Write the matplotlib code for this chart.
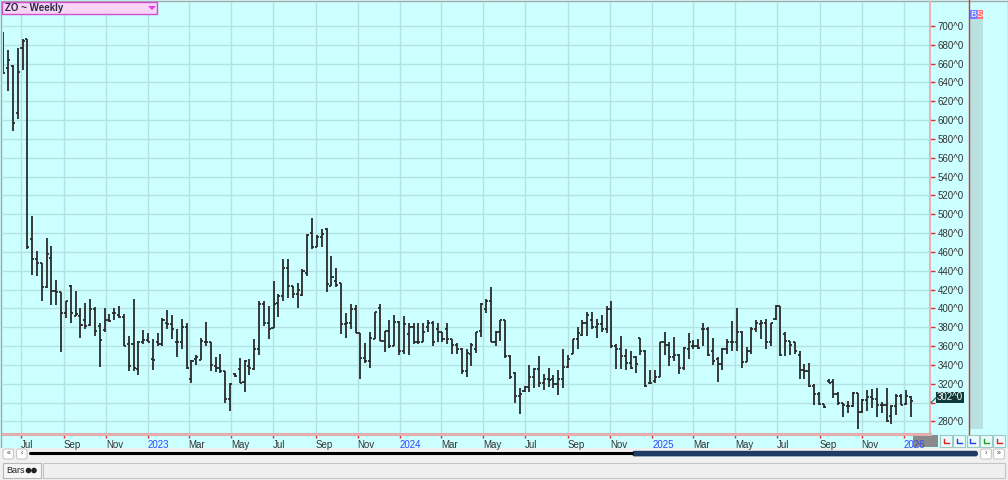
import matplotlib
matplotlib.use('Agg')
import matplotlib.pyplot as plt
import matplotlib.dates as mdates
from matplotlib.collections import LineCollection
from matplotlib.patches import Rectangle, Polygon, Circle, FancyBboxPatch
from matplotlib.ticker import FixedLocator, FuncFormatter
import pandas as pd

plt.rcParams['font.family'] = ['Liberation Sans', 'DejaVu Sans']

# ---------------- data ----------------
symbol_title = "ZO ~ Weekly"
first_week = "2022-06-05"
opens = [691, 655, 658, 608, 677, 686,
         474, 453, 448, 423, 454, 418, 417, 395, 424, 392, 392, 388, 382, 399,
         381, 377, 388, 395, 393, 391, 362, 362, 336, 364, 366, 346, 364, 362,
         384, 383, 364, 364, 380, 325, 346, 345, 364, 364, 339, 337, 333, 304,
         330, 336, 322, 339, 336, 357, 405, 385, 379, 406, 413, 443, 424, 415,
         414, 438, 480, 465, 476, 484, 424, 429, 427, 383, 385, 399, 374, 347,
         344, 368, 400, 365, 376, 360, 386, 355, 373, 380, 364, 364, 380, 385,
         378, 375, 378, 367, 361, 357, 334,
         352, 357, 376, 399, 408, 364, 375, 388, 349, 331, 307, 312, 317, 327,
         336, 321, 325, 325, 320, 325, 338, 352, 367, 372, 385, 388, 380, 383,
         378, 399, 360, 357, 349, 342, 348, 369, 355, 321, 323, 327, 364, 361,
         348, 351, 337, 357, 360,
         360, 378, 378, 355, 346, 341, 357, 364, 364, 375, 343, 355, 378, 383,
         385, 364, 389, 403, 373, 365, 364, 350, 335, 334, 318, 309, 298, 323,
         322, 309, 299, 296, 296, 310, 290, 303, 306, 304, 297, 297, 286, 296,
         307, 298, 306]
highs = [694, 674, 659, 677, 686, 686,
         498, 461, 448.5, 475, 466, 430, 417, 408, 424.5, 419, 400, 406, 410, 401,
         384, 400, 394, 400, 403, 394, 371, 410, 365, 377, 374, 368, 374, 390,
         398, 393, 378, 389, 384, 345, 351, 369, 386, 364, 348, 352, 334, 321,
         331, 347, 345, 346, 368, 408, 408, 403, 429, 415, 453, 453, 424, 427,
         442, 479, 496, 478, 484, 485, 456, 443, 427, 395, 405, 404, 374, 363,
         375, 396, 405, 376, 388, 393, 387, 392, 384, 384, 384, 385, 388, 387,
         384, 375, 384, 367, 363, 358, 357,
         363, 375, 406, 410, 423, 376, 388, 388, 350, 332, 315, 318, 340, 337,
         349, 330, 337, 329, 335, 357, 350, 367, 380, 388, 396, 396, 389, 393,
         403, 408, 362, 371, 357, 355, 349, 369, 356, 335, 335, 364, 375, 364,
         370, 352, 359, 374, 366,
         367, 384, 380, 369, 348, 358, 367, 387, 400, 376, 359, 380, 388, 388,
         389, 385, 404, 403, 375, 365, 364, 355, 341, 342, 320, 311, 298, 325,
         325, 311, 300, 302, 311, 310, 304, 313, 314, 315, 301, 315, 297, 309,
         309, 313, 307]
lows = [650, 631, 588, 601, 653, 463,
        435, 434, 408, 422, 404, 404, 354, 390, 384, 392, 369, 378, 381, 371,
        338, 375, 386, 388, 390, 360, 334, 334, 329, 362, 364, 335, 360, 360,
        378, 367, 348, 357, 336, 321, 340, 345, 360, 334, 332, 331, 300, 291,
        327.6, 321, 311, 329, 335, 351, 381, 367, 379, 391, 408, 411, 411, 400,
        413, 434, 463, 465, 465, 417, 424, 423, 373, 369, 378, 374, 325, 342,
        337, 368, 365, 354, 358, 360, 351, 352, 350, 362, 362, 364, 375, 360,
        364, 364, 362, 352, 352, 330, 327,
        339, 353, 370, 395, 364, 360, 365, 347, 325, 299, 288, 311, 311, 315,
        317, 313, 317, 315, 308, 315, 337, 352, 357, 371, 371, 378, 369, 375,
        374, 358, 336, 336, 335, 336, 331, 351, 317, 320, 321, 327, 350, 339,
        344, 330, 335, 346, 357,
        357, 360, 349, 340, 322, 335, 352, 355, 355, 337, 343, 352, 375, 368,
        357, 360, 388, 349, 349, 350, 352, 325, 325, 317, 297, 297, 294, 321,
        305, 297, 285, 289, 295, 272, 289, 291, 294, 285, 289, 279, 277, 287,
        297, 297, 285]
closes = [650, 664, 597, 651, 684, 465,
          453, 448, 423, 458, 418, 417, 395, 408, 395, 394, 382, 381, 399, 376,
          366, 388, 387, 395, 391, 360, 339, 337, 364, 366, 364, 345, 362, 388,
          383, 378, 364, 380, 337, 344, 348, 365, 364, 340, 337, 333, 304, 320,
          328, 321, 344, 337, 357, 405, 385, 378, 405, 413, 443, 424, 415, 420,
          440, 478, 465, 476, 479, 426, 433, 425, 383, 384, 399, 374, 347, 344,
          369, 396, 365, 376, 360, 386, 355, 383, 380, 364, 364, 375, 385, 364,
          375, 367, 367, 361, 357, 334, 353,
          361, 375, 405, 408, 364, 375, 388, 349, 327, 307, 309, 317, 327, 336,
          321, 325, 324, 320, 325, 338, 346, 367, 374, 385, 393, 380, 383, 378,
          399, 360, 357, 349, 342, 337, 341, 355, 318, 321, 327, 364, 361, 348,
          351, 337, 358, 364, 360,
          358, 378, 350, 344, 341, 357, 364, 364, 375, 343, 355, 378, 385, 385,
          364, 384, 403, 350, 365, 361, 355, 335, 334, 318, 309, 298, 295, 321,
          309, 300, 297, 296, 310, 290, 303, 306, 304, 297, 297, 280, 296, 307,
          297, 307, 302]
y_ticks = list(range(280, 701, 20))
month_ticks_start = "2022-07-01"
month_ticks_end = "2026-01-01"
month_names = {1: None, 3: "Mar", 5: "May", 7: "Jul", 9: "Sep", 11: "Nov"}
last_label = "302^0"

# ---------------- figure ----------------
W, H = 1008, 480
fig = plt.figure(figsize=(W / 100, H / 100), dpi=100, facecolor='#ccffff')


def box(x0, y0, x1, y1):
    return [x0 / W, 1 - y1 / H, (x1 - x0) / W, (y1 - y0) / H]


# lower overlay (bottom strips, buttons) drawn beneath the chart axes
ov = fig.add_axes([0, 0, 1, 1], zorder=1)
ov.set_xlim(0, W)
ov.set_ylim(H, 0)
ov.axis('off')

ax = fig.add_axes(box(3, 2, 930, 434), zorder=3)
ax.patch.set_visible(False)

# upper overlay (title, price tag) drawn above the chart axes
top = fig.add_axes([0, 0, 1, 1], zorder=5)
top.set_xlim(0, W)
top.set_ylim(H, 0)
top.axis('off')

dates = pd.date_range(first_week, periods=len(opens), freq='7D')
xs = mdates.date2num(dates)
tw = 3.0
segs = []
for x, o, h, l, c in zip(xs, opens, highs, lows, closes):
    segs.append([(x, l), (x, h)])
    segs.append([(x - tw, o), (x, o)])
    segs.append([(x, c), (x + tw, c)])
ax.add_collection(LineCollection(segs, colors='#2a2a2a', linewidths=1.3,
                                 capstyle='butt', zorder=3))

base = mdates.date2num(pd.Timestamp("2023-01-01"))
ax.set_xlim(base - 210.3, base + 1134.0)
ax.set_ylim(266.6, 725.5)

# y axis on right (label under the last-price tag is masked, as in the reference)
ax.yaxis.tick_right()
ax.set_yticks(y_ticks)
ax.yaxis.set_major_formatter(FuncFormatter(
    lambda v, p: '' if abs(v - closes[-1]) < 8 else f"{int(v)}^0"))
ax.tick_params(axis='y', direction='out', length=3.5, width=1, color='#e03030',
               pad=2, labelsize=7, labelcolor='#333333')

# x axis
tdates = pd.date_range(month_ticks_start, month_ticks_end, freq='2MS')
ax.xaxis.set_major_locator(FixedLocator(mdates.date2num(tdates)))
labels = [str(d.year) if d.month == 1 else month_names[d.month] for d in tdates]
ax.set_xticklabels(labels)
for lbl, d in zip(ax.get_xticklabels(), tdates):
    lbl.set_horizontalalignment('left')
    lbl.set_color('#3344ff' if d.month == 1 else '#333333')
ax.tick_params(axis='x', direction='out', length=3, width=1, color='#e03030',
               pad=1.5, labelsize=7)

ax.grid(True, color='#b4e2e2', lw=1)
ax.set_axisbelow(True)
for s in ('left', 'top'):
    ax.spines[s].set_visible(False)
ax.spines['bottom'].set_color('#e2aeae')
ax.spines['bottom'].set_linewidth(2.2)
ax.spines['right'].set_color('#e6b6b6')
ax.spines['right'].set_linewidth(1.5)

# ---------------- lower overlay content ----------------
ov.add_patch(Rectangle((0.5, 0.5), W - 1, H - 1, fill=False, ec='#a8a8a8', lw=1))

# red line and B/S column
ov.plot([969, 969], [0, 434], color='#e03030', lw=1)
ov.add_patch(Rectangle((970, 19), 13, 410, fc='#b8e2e2', ec='none'))

# gray box at end of date axis
ov.add_patch(Rectangle((913, 435), 25, 11.5, fc='#8a8a8a', ec='none'))

# small buttons
btn_x = [940, 953, 966.5, 980, 993]
glyph_cols = ['#e02020', '#2040e0', '#2040e0', '#20a020', '#e02020']
for bx, gc in zip(btn_x, glyph_cols):
    ov.add_patch(Rectangle((bx, 435), 12, 11.5, fc='#eafafa', ec='#9cc8c8', lw=0.8))
    ov.plot([bx + 3.5, bx + 3.5, bx + 8.5], [438.5, 442.5, 442.5], color=gc, lw=1)

# scrollbar row
ov.add_patch(Rectangle((0, 447.5), W, 14, fc='#f0f0f0', ec='none'))
for bx in (3, 16.5):
    ov.add_patch(FancyBboxPatch((bx, 449), 10.5, 10, boxstyle='round,pad=0,rounding_size=2',
                                fc='white', ec='#c8c8c8', lw=0.8))
ov.text(8.2, 454, '«', fontsize=5, ha='center', va='center', color='#333333')
ov.text(21.7, 454, '‹', fontsize=5, ha='center', va='center', color='#333333')
for bx in (980.5, 993.5):
    ov.add_patch(FancyBboxPatch((bx, 449), 11, 10, boxstyle='round,pad=0,rounding_size=2',
                                fc='white', ec='#c8c8c8', lw=0.8))
ov.text(986, 454, '›', fontsize=5, ha='center', va='center', color='#333333')
ov.text(999, 454, '»', fontsize=5, ha='center', va='center', color='#333333')
ov.plot([29.5, 632], [453.3, 453.3], color='black', lw=2.2, solid_capstyle='round')
ov.add_patch(FancyBboxPatch((632, 450.8), 346, 5.6, boxstyle='round,pad=0,rounding_size=2.5',
                            fc='#1f3b63', ec='none'))

# bottom tab row
ov.add_patch(Rectangle((0, 461.5), W, 18.5, fc='#f0f0f0', ec='none'))
ov.add_patch(Rectangle((43, 463), 962, 15, fc='#f0f0f0', ec='#c4c4c4', lw=0.8))
ov.add_patch(Rectangle((2.5, 463), 38, 15, fc='#f6f6f6', ec='#b8b8b8', lw=0.8))
ov.text(6, 470.5, 'Bars', fontsize=6.5, ha='left', va='center', color='#222222')
ov.add_patch(Circle((28.5, 470.5), 2.8, fc='#222222', ec='none'))
ov.add_patch(Circle((34, 470.5), 2.8, fc='#222222', ec='none'))

# ---------------- upper overlay content ----------------
top.add_patch(Rectangle((2, 1.5), 155, 12.5, fc='#f8d4f8', ec='#d050d0', lw=1))
top.text(5, 8, symbol_title, fontsize=7, fontweight='bold', color='#2a2a44',
         va='center', ha='left')
top.add_patch(Polygon([(148, 6), (156, 6), (152, 10)], closed=True, fc='#e040e0', ec='none'))

top.add_patch(Rectangle((970, 10), 6.5, 9, fc='#6f7bff', ec='none'))
top.add_patch(Rectangle((976.5, 10), 6.5, 9, fc='#ff7070', ec='none'))
top.text(973.2, 14.7, 'B', fontsize=6.5, color='white', ha='center', va='center')
top.text(979.7, 14.7, 'S', fontsize=6.5, color='white', ha='center', va='center')

# last price tag positioned from the last close through the chart's transform
disp = ax.transData.transform((xs[-1], closes[-1]))
py = H - disp[1]
top.plot([931, 936], [py + 2, py - 3], color='#335555', lw=0.8)
top.add_patch(Rectangle((936, py - 9), 28, 11, fc='#0f3a3a', ec='none'))
top.text(950, py - 3.5, last_label, fontsize=7, color='white', ha='center', va='center')

fig.savefig('out.png', dpi=100, facecolor=fig.get_facecolor())
